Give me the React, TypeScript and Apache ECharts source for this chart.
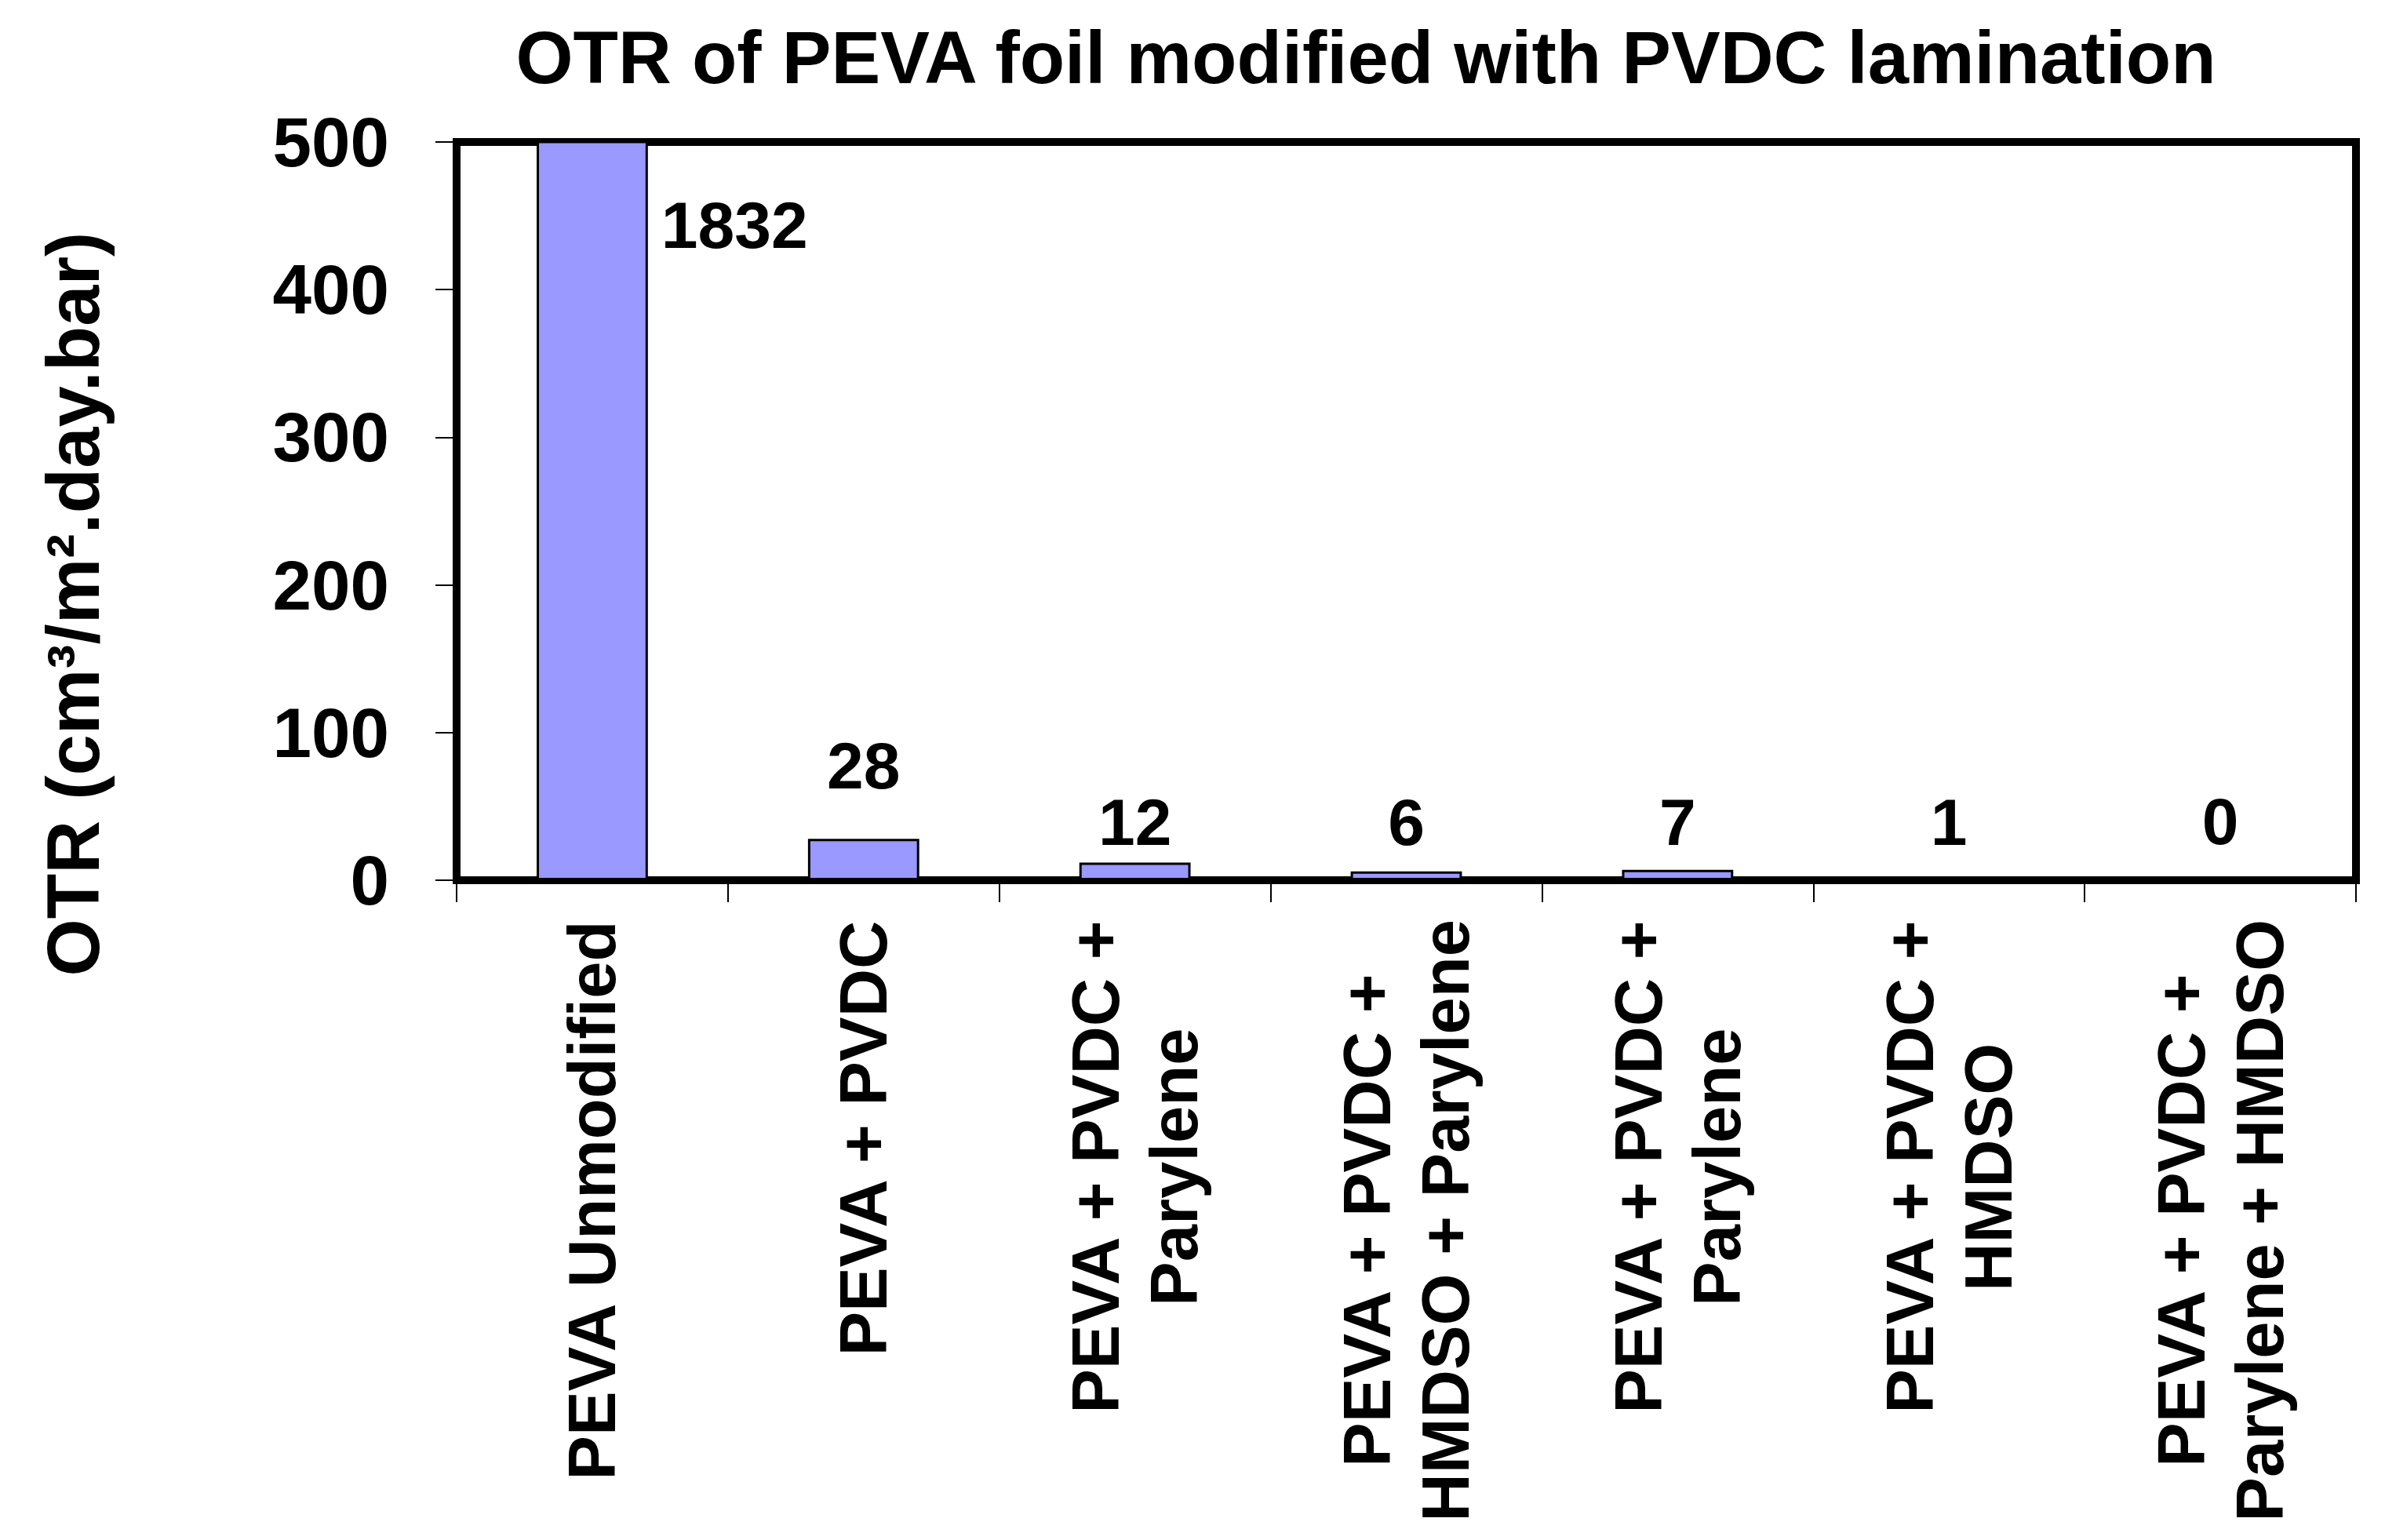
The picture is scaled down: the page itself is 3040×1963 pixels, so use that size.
import React, { useEffect, useRef } from "react";
import * as echarts from "echarts";

const titleText = "OTR of PEVA foil modified with PVDC lamination";
const yAxisTitle = "OTR (cm\u00B3/m\u00B2.day.bar)";
const categories = [
  "PEVA Unmodified",
  "PEVA + PVDC",
  "PEVA + PVDC +\nParylene",
  "PEVA + PVDC +\nHMDSO + Parylene",
  "PEVA + PVDC +\nParylene",
  "PEVA + PVDC +\nHMDSO",
  "PEVA + PVDC +\nParylene + HMDSO",
];
const otrValues = [1832, 28, 12, 6, 7, 1, 0];
const yMin = 0;
const yMax = 500;
const yInterval = 100;

// label gap above each bar (style only)
const labelGaps = [0, 51, 9, 21, 19, 30, 32];

const FONT = "'Liberation Sans', Arial, sans-serif";
const BAR_COLOR = "#9999FF";

export default function App() {
  const ref = useRef<HTMLDivElement>(null);
  useEffect(() => {
    if (!ref.current) return;
    const chart = echarts.init(ref.current, undefined, { renderer: "svg" });
    const data = otrValues.map((v, i) => {
      if (i === 0) {
        return {
          value: v,
          label: {
            show: true,
            position: ["100%", 107],
            align: "left",
            verticalAlign: "middle",
            offset: [17, 0],
          },
        };
      }
      return {
        value: v,
        label: { show: true, position: "top", distance: labelGaps[i] },
      };
    });
    chart.setOption({
      animation: false,
      backgroundColor: "#ffffff",
      title: {
        text: titleText,
        left: 1741,
        top: 26,
        padding: 0,
        textAlign: "center",
        textStyle: {
          fontFamily: FONT,
          fontWeight: "bold",
          fontSize: 94,
          color: "#000",
        },
      },
      graphic: [
        {
          type: "text",
          x: 93,
          y: 770,
          rotation: Math.PI / 2,
          style: {
            text: yAxisTitle,
            textAlign: "center",
            textVerticalAlign: "middle",
            fontFamily: FONT,
            fontWeight: "bold",
            fontSize: 94,
            fill: "#000",
          },
        },
      ],
      grid: {
        left: 582,
        right: 37,
        top: 181,
        bottom: 841,
        show: true,
        borderColor: "#000",
        borderWidth: 10,
        backgroundColor: "#fff",
      },
      xAxis: {
        type: "category",
        data: categories,
        axisLine: { show: true, lineStyle: { color: "#000", width: 10 } },
        axisTick: {
          show: true,
          alignWithLabel: false,
          length: 28,
          lineStyle: { color: "#000", width: 2 },
        },
        axisLabel: {
          interval: 0,
          rotate: 90,
          margin: 50,
          formatter: (v: string) =>
            v
              .split("\n")
              .map((l) => `{c|${l}}`)
              .join("\n"),
          rich: {
            c: {
              fontFamily: FONT,
              fontWeight: "bold",
              fontSize: 85,
              lineHeight: 100,
              color: "#000",
              align: "center",
            },
          },
        },
        splitLine: { show: false },
      },
      yAxis: {
        type: "value",
        min: yMin,
        max: yMax,
        interval: yInterval,
        axisLine: { show: true, lineStyle: { color: "#000", width: 10 } },
        axisTick: {
          show: true,
          length: 27,
          lineStyle: { color: "#000", width: 2 },
        },
        axisLabel: {
          margin: 86,
          fontFamily: FONT,
          fontWeight: "bold",
          fontSize: 89,
          color: "#000",
        },
        splitLine: { show: false },
      },
      series: [
        {
          type: "bar",
          data,
          clip: true,
          barCategoryGap: "59%",
          itemStyle: {
            color: BAR_COLOR,
            borderColor: "#000",
            borderWidth: 3,
          },
          label: {
            show: true,
            fontFamily: FONT,
            fontWeight: "bold",
            fontSize: 84,
            color: "#000",
          },
        },
      ],
    });
    return () => chart.dispose();
  }, []);
  return (
    <div
      ref={ref}
      style={{ position: "fixed", left: 0, top: 0, width: 3040, height: 1963 }}
    />
  );
}
